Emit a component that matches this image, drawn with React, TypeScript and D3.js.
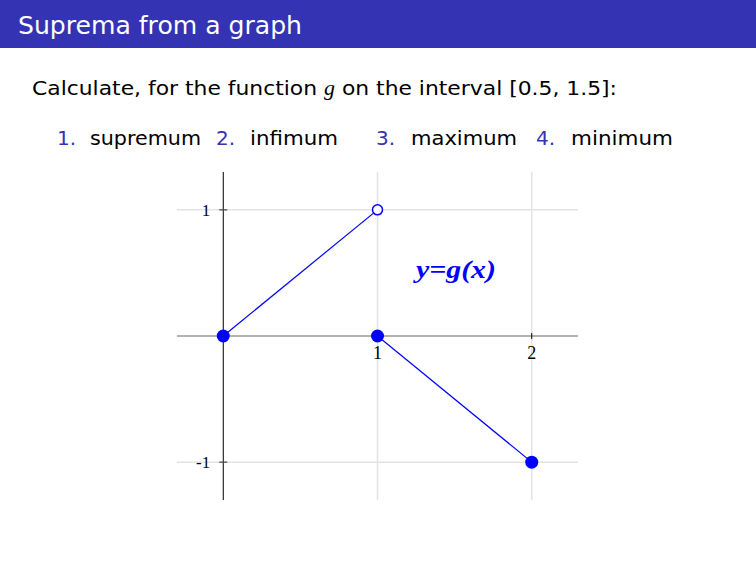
import React, { useRef, useEffect } from 'react';
import * as d3 from 'd3';

// pieces of g: [x0, y0] -> [x1, y1]
const SEG_X0 = [0, 1];
const SEG_Y0 = [0, 0];
const SEG_X1 = [1, 2];
const SEG_Y1 = [1, -1];

const FILLED_X = [0, 1, 2];
const FILLED_Y = [0, 0, -1];
const OPEN_X = [1];
const OPEN_Y = [1];

const X_TICKS = [1, 2];
const Y_TICKS = [1, -1];
const ITEMS = ['supremum', 'infimum', 'maximum', 'minimum'];

const BLUE = '#0000ff';
const BEAMER = '#3333b3';

export default function App() {
  const ref = useRef<SVGSVGElement>(null);

  useEffect(() => {
    const svg = d3.select(ref.current);
    svg.selectAll('*').remove();

    const sans = "'DejaVu Sans', sans-serif";
    const serif = "'Liberation Serif', 'DejaVu Serif', serif";

    // header bar
    svg.append('rect').attr('x', 0).attr('y', 0).attr('width', 756).attr('height', 48).attr('fill', BEAMER);
    svg.append('text').attr('x', 18).attr('y', 34).attr('fill', '#fff')
      .attr('textLength', 284).attr('lengthAdjust', 'spacingAndGlyphs')
      .style('font-family', sans).style('font-size', '24px').text('Suprema from a graph');

    const q = svg.append('text').attr('x', 32).attr('y', 95).attr('fill', '#000')
      .attr('textLength', 585).attr('lengthAdjust', 'spacingAndGlyphs')
      .style('font-family', sans).style('font-size', '20px');
    q.append('tspan').text('Calculate, for the function ');
    q.append('tspan').style('font-family', serif).style('font-style', 'italic').text('g');
    q.append('tspan').text(' on the interval [0.5, 1.5]:');

    const numX = [57, 216, 376, 536];
    const wordX = [90, 250, 411, 571];
    const wordW = [111, 88, 106, 102];
    ITEMS.forEach((w, i) => {
      svg.append('text').attr('x', numX[i]).attr('y', 145).attr('fill', BEAMER)
        .style('font-family', sans).style('font-size', '20px').text(`${i + 1}.`);
      svg.append('text').attr('x', wordX[i]).attr('y', 145).attr('fill', '#000')
        .attr('textLength', wordW[i]).attr('lengthAdjust', 'spacingAndGlyphs')
        .style('font-family', sans).style('font-size', '20px').text(w);
    });

    // plot area
    const x = d3.scaleLinear().domain([-0.3, 2.3]).range([177, 578]);
    const y = d3.scaleLinear().domain([-1.3, 1.3]).range([500, 172]);

    const g = svg.append('g');

    // grid
    g.selectAll('.vg').data(X_TICKS).enter().append('line')
      .attr('x1', d => x(d)).attr('x2', d => x(d)).attr('y1', y(1.3)).attr('y2', y(-1.3))
      .attr('stroke', '#e3e3e3').attr('stroke-width', 1.5);
    g.selectAll('.hg').data(Y_TICKS).enter().append('line')
      .attr('y1', d => y(d)).attr('y2', d => y(d)).attr('x1', x(-0.3)).attr('x2', x(2.3))
      .attr('stroke', '#e3e3e3').attr('stroke-width', 1.5);

    // axes
    g.append('line').attr('x1', x(-0.3)).attr('x2', x(2.3)).attr('y1', y(0)).attr('y2', y(0))
      .attr('stroke', '#666').attr('stroke-width', 1);
    g.append('line').attr('x1', x(0)).attr('x2', x(0)).attr('y1', y(1.3)).attr('y2', y(-1.3))
      .attr('stroke', '#000').attr('stroke-width', 1);

    // ticks + labels
    g.selectAll('.xt').data(X_TICKS).enter().append('line')
      .attr('x1', d => x(d)).attr('x2', d => x(d)).attr('y1', y(0) - 3).attr('y2', y(0) + 3)
      .attr('stroke', '#000');
    g.selectAll('.xl').data(X_TICKS).enter().append('text')
      .attr('x', d => x(d)).attr('y', y(0) + 23).attr('text-anchor', 'middle')
      .style('font-family', serif).style('font-size', '18px').text(d => d);
    g.selectAll('.yt').data(Y_TICKS).enter().append('line')
      .attr('x1', x(0) - 4).attr('x2', x(0) + 4).attr('y1', d => y(d)).attr('y2', d => y(d))
      .attr('stroke', '#444').attr('stroke-width', 1.2);
    g.selectAll('.yl').data(Y_TICKS).enter().append('text')
      .attr('x', x(0) - 13).attr('y', d => y(d) + 6).attr('text-anchor', 'end')
      .style('font-family', serif).style('font-size', '17px').text(d => d);

    // graph of g
    g.selectAll('.seg').data(SEG_X0).enter().append('line')
      .attr('x1', (d, i) => x(SEG_X0[i])).attr('y1', (d, i) => y(SEG_Y0[i]))
      .attr('x2', (d, i) => x(SEG_X1[i])).attr('y2', (d, i) => y(SEG_Y1[i]))
      .attr('stroke', BLUE).attr('stroke-width', 1.2);

    g.selectAll('.fp').data(FILLED_X).enter().append('circle')
      .attr('cx', (d, i) => x(FILLED_X[i])).attr('cy', (d, i) => y(FILLED_Y[i])).attr('r', 6.5)
      .attr('fill', BLUE);
    g.selectAll('.op').data(OPEN_X).enter().append('circle')
      .attr('cx', (d, i) => x(OPEN_X[i])).attr('cy', (d, i) => y(OPEN_Y[i])).attr('r', 5)
      .attr('fill', '#fff').attr('stroke', BLUE).attr('stroke-width', 1.5);

    g.append('text').attr('x', 416).attr('y', 278).attr('fill', BLUE)
      .attr('textLength', 80).attr('lengthAdjust', 'spacingAndGlyphs')
      .style('font-family', serif).style('font-size', '25px').style('font-weight', 'bold')
      .style('font-style', 'italic').text('y=g(x)');
  }, []);

  return <svg ref={ref} width={756} height={567} style={{ position: 'absolute', left: 0, top: 0 }} />;
}
